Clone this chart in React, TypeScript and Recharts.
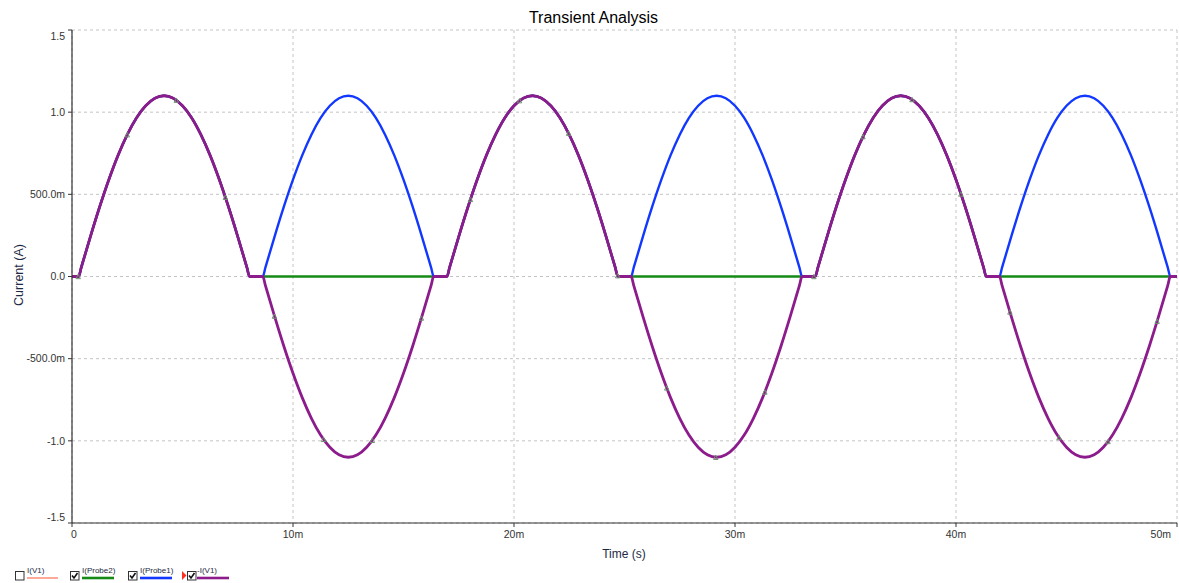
import React from "react";
import { ComposedChart, Line, XAxis, YAxis, CartesianGrid } from "recharts";

// Time in milliseconds
const TIME_MS = [
  0, 0.3, 0.417, 0.833, 1.25, 1.667, 2.083, 2.5, 2.917, 3.333, 3.75, 4.167, 4.583, 5, 5.417, 5.833, 6.25, 6.667, 7.083, 7.5, 7.917, 8.033,
  8.333, 8.633,
  8.75, 9.167, 9.583, 10, 10.417, 10.833, 11.25, 11.667, 12.083, 12.5, 12.917, 13.333, 13.75, 14.167, 14.583, 15, 15.417, 15.833, 16.25,
  16.367, 16.667, 16.967,
  17.083, 17.5, 17.917, 18.333, 18.75, 19.167, 19.583, 20, 20.417, 20.833, 21.25, 21.667, 22.083, 22.5, 22.917, 23.333, 23.75, 24.167, 24.583,
  24.7, 25, 25.3,
  25.417, 25.833, 26.25, 26.667, 27.083, 27.5, 27.917, 28.333, 28.75, 29.167, 29.583, 30, 30.417, 30.833, 31.25, 31.667, 32.083, 32.5, 32.917,
  33.033, 33.333, 33.633,
  33.75, 34.167, 34.583, 35, 35.417, 35.833, 36.25, 36.667, 37.083, 37.5, 37.917, 38.333, 38.75, 39.167, 39.583, 40, 40.417, 40.833, 41.25,
  41.367, 41.667, 41.967,
  42.083, 42.5, 42.917, 43.333, 43.75, 44.167, 44.583, 45, 45.417, 45.833, 46.25, 46.667, 47.083, 47.5, 47.917, 48.333, 48.75, 49.167, 49.583,
  49.7, 50,
];

// -I(V1) (purple)
const NEG_I_V1 = [
  0, 0, 0.054, 0.243, 0.423, 0.589, 0.737, 0.863, 0.965, 1.039, 1.085, 1.1, 1.085, 1.039, 0.965, 0.863, 0.737, 0.589, 0.423, 0.243, 0.054, 0,
  0, 0,
  -0.054, -0.243, -0.423, -0.589, -0.737, -0.863, -0.965, -1.039, -1.085, -1.1, -1.085, -1.039, -0.965, -0.863, -0.737, -0.589, -0.423, -0.243, -0.054,
  0, 0, 0,
  0.054, 0.243, 0.423, 0.589, 0.737, 0.863, 0.965, 1.039, 1.085, 1.1, 1.085, 1.039, 0.965, 0.863, 0.737, 0.589, 0.423, 0.243, 0.054,
  0, 0, 0,
  -0.054, -0.243, -0.423, -0.589, -0.737, -0.863, -0.965, -1.039, -1.085, -1.1, -1.085, -1.039, -0.965, -0.863, -0.737, -0.589, -0.423, -0.243, -0.054,
  0, 0, 0,
  0.054, 0.243, 0.423, 0.589, 0.737, 0.863, 0.965, 1.039, 1.085, 1.1, 1.085, 1.039, 0.965, 0.863, 0.737, 0.589, 0.423, 0.243, 0.054,
  0, 0, 0,
  -0.054, -0.243, -0.423, -0.589, -0.737, -0.863, -0.965, -1.039, -1.085, -1.1, -1.085, -1.039, -0.965, -0.863, -0.737, -0.589, -0.423, -0.243, -0.054,
  0, 0,
];

// I(Probe1) (blue)
const I_PROBE1 = [
  0, 0, 0.054, 0.243, 0.423, 0.589, 0.737, 0.863, 0.965, 1.039, 1.085, 1.1, 1.085, 1.039, 0.965, 0.863, 0.737, 0.589, 0.423, 0.243, 0.054, 0,
  0, 0,
  0.054, 0.243, 0.423, 0.589, 0.737, 0.863, 0.965, 1.039, 1.085, 1.1, 1.085, 1.039, 0.965, 0.863, 0.737, 0.589, 0.423, 0.243, 0.054,
  0, 0, 0,
  0.054, 0.243, 0.423, 0.589, 0.737, 0.863, 0.965, 1.039, 1.085, 1.1, 1.085, 1.039, 0.965, 0.863, 0.737, 0.589, 0.423, 0.243, 0.054,
  0, 0, 0,
  0.054, 0.243, 0.423, 0.589, 0.737, 0.863, 0.965, 1.039, 1.085, 1.1, 1.085, 1.039, 0.965, 0.863, 0.737, 0.589, 0.423, 0.243, 0.054,
  0, 0, 0,
  0.054, 0.243, 0.423, 0.589, 0.737, 0.863, 0.965, 1.039, 1.085, 1.1, 1.085, 1.039, 0.965, 0.863, 0.737, 0.589, 0.423, 0.243, 0.054,
  0, 0, 0,
  0.054, 0.243, 0.423, 0.589, 0.737, 0.863, 0.965, 1.039, 1.085, 1.1, 1.085, 1.039, 0.965, 0.863, 0.737, 0.589, 0.423, 0.243, 0.054,
  0, 0,
];

// I(Probe2) (green)
const I_PROBE2 = [
  0, 0, 0.054, 0.243, 0.423, 0.589, 0.737, 0.863, 0.965, 1.039, 1.085, 1.1, 1.085, 1.039, 0.965, 0.863, 0.737, 0.589, 0.423, 0.243, 0.054, 0,
  0, 0,
  0, 0, 0, 0, 0, 0, 0, 0, 0, 0, 0, 0, 0, 0, 0, 0, 0, 0, 0,
  0, 0, 0,
  0.054, 0.243, 0.423, 0.589, 0.737, 0.863, 0.965, 1.039, 1.085, 1.1, 1.085, 1.039, 0.965, 0.863, 0.737, 0.589, 0.423, 0.243, 0.054,
  0, 0, 0,
  0, 0, 0, 0, 0, 0, 0, 0, 0, 0, 0, 0, 0, 0, 0, 0, 0, 0, 0,
  0, 0, 0,
  0.054, 0.243, 0.423, 0.589, 0.737, 0.863, 0.965, 1.039, 1.085, 1.1, 1.085, 1.039, 0.965, 0.863, 0.737, 0.589, 0.423, 0.243, 0.054,
  0, 0, 0,
  0, 0, 0, 0, 0, 0, 0, 0, 0, 0, 0, 0, 0, 0, 0, 0, 0, 0, 0,
  0, 0,
];

// Small trace markers on -I(V1)
const MARKER_TIME_MS = [
  0.28, 2.5, 4.72, 6.94, 9.16, 11.38, 13.59, 15.81, 18.03, 20.25, 22.47, 24.69,
  26.91, 29.13, 31.35, 33.57, 35.79, 38.01, 40.22, 42.44, 44.66, 46.88, 49.1,
];
const MARKER_VALUES = [
  0, 0.863, 1.073, 0.482, -0.241, -0.991, -0.997, -0.253, 0.469, 1.07, 0.872, 0.005,
  -0.678, -1.1, -0.703, 0, 0.851, 1.077, 0.502, -0.216, -0.98, -1.004, -0.272,
];

const X_TICKS = [0, 10, 20, 30, 40, 50];
const X_TICK_LABELS = ["0", "10m", "20m", "30m", "40m", "50m"];
const Y_TICKS = [-1.5, -1, -0.5, 0, 0.5, 1, 1.5];
const Y_TICK_LABELS = ["-1.5", "-1.0", "-500.0m", "0.0", "500.0m", "1.0", "1.5"];

const FONT = "'Liberation Sans', Arial, sans-serif";
const PURPLE = "#8c1c8c";
const BLUE = "#1238ff";
const GREEN = "#168a16";
const LABEL_COLOR = "#1e2a44";
const TICK_COLOR = "#333333";

const rows = TIME_MS.map((t, i) => ({
  t,
  v1: NEG_I_V1[i],
  p1: I_PROBE1[i],
  p2: I_PROBE2[i],
}));
const markers = MARKER_TIME_MS.map((t, i) => ({ t, m: MARKER_VALUES[i] }));

const XTick = (props: any) => {
  const { x, y, payload } = props;
  const i = X_TICKS.indexOf(payload.value);
  const label = X_TICK_LABELS[i] ?? String(payload.value);
  let anchor: "start" | "middle" | "end" = "middle";
  let dx = 0;
  if (i === 0) {
    anchor = "start";
    dx = -1;
  } else if (i === X_TICKS.length - 1) {
    anchor = "end";
    dx = 0;
  }
  return (
    <text x={x + dx} y={y} dy="0.71em" textAnchor={anchor} fontSize={10.5} fontFamily={FONT} fill={TICK_COLOR}>
      {label}
    </text>
  );
};

const YTick = (props: any) => {
  const { x, y, payload } = props;
  const i = Y_TICKS.indexOf(payload.value);
  const label = Y_TICK_LABELS[i] ?? String(payload.value);
  let dy = 0;
  if (i === Y_TICKS.length - 1) dy = 6;
  if (i === 0) dy = -6;
  return (
    <text x={x} y={y + dy} dy="0.355em" textAnchor="end" fontSize={10.5} fontFamily={FONT} fill={TICK_COLOR}>
      {label}
    </text>
  );
};

const MarkerDot = (props: any) => {
  const { cx, cy, index } = props;
  if (cx == null || cy == null) return <g key={`m-${index}`} />;
  const s = 2.2;
  return (
    <g key={`m-${index}`}>
      <path
        d={`M${cx - s},${cy + s} L${cx},${cy - s} L${cx + s},${cy + s} Z`}
        fill="none"
        stroke="#6f8f6f"
        strokeWidth={1}
      />
    </g>
  );
};

const CheckBox = ({ x, checked }: { x: number; checked: boolean }) => (
  <g>
    <rect x={x + 0.5} y={571.5} width={8.5} height={8.5} fill="#fff" stroke="#333" strokeWidth={1} />
    {checked && (
      <path
        d={`M${x + 2},${575.5} L${x + 4},${578} L${x + 7.5},${573}`}
        fill="none"
        stroke="#111"
        strokeWidth={1.6}
      />
    )}
  </g>
);

const LEGEND_ITEMS = [
  { box: 15, label: "I(V1)", lx: 27, x2: 58, color: "#ff5533", w: 1, checked: false },
  { box: 70, label: "I(Probe2)", lx: 82, x2: 114, color: GREEN, w: 2.6, checked: true },
  { box: 128, label: "I(Probe1)", lx: 140, x2: 172, color: BLUE, w: 2.6, checked: true },
  { box: 187, label: "-I(V1)", lx: 197, x2: 229, color: PURPLE, w: 2.6, checked: true },
];

export default function App() {
  return (
    <div style={{ position: "absolute", left: 0, top: 0, width: 1179, height: 583, background: "#fff" }}>
      <ComposedChart
        width={1179}
        height={583}
        data={rows}
        margin={{ top: 30, right: 2, left: 12, bottom: 30 }}
      >
        <CartesianGrid stroke="#c4c4c4" strokeDasharray="3 3" />
        <XAxis
          dataKey="t"
          type="number"
          domain={[0, 50]}
          ticks={X_TICKS}
          allowDataOverflow
          height={30}
          tick={<XTick />}
          tickSize={4}
          tickMargin={4}
          axisLine={{ stroke: TICK_COLOR, strokeWidth: 1.2 }}
          tickLine={{ stroke: TICK_COLOR }}
        />
        <YAxis
          type="number"
          domain={[-1.5, 1.5]}
          ticks={Y_TICKS}
          allowDataOverflow
          width={60}
          tick={<YTick />}
          tickSize={4}
          tickMargin={3}
          axisLine={{ stroke: TICK_COLOR, strokeWidth: 1.2 }}
          tickLine={{ stroke: TICK_COLOR }}
        />
        <Line
          type="monotone"
          dataKey="p2"
          stroke={GREEN}
          strokeWidth={2.4}
          dot={false}
          isAnimationActive={false}
        />
        <Line
          type="monotone"
          dataKey="p1"
          stroke={BLUE}
          strokeWidth={2.4}
          dot={false}
          isAnimationActive={false}
        />
        <Line
          type="monotone"
          dataKey="v1"
          stroke={PURPLE}
          strokeWidth={2.8}
          dot={false}
          isAnimationActive={false}
        />
        <Line
          data={markers}
          type="linear"
          dataKey="m"
          stroke="none"
          dot={<MarkerDot />}
          activeDot={false}
          isAnimationActive={false}
        />
      </ComposedChart>
      <svg
        width={1179}
        height={583}
        style={{ position: "absolute", left: 0, top: 0, pointerEvents: "none" }}
      >
        <text x={593.5} y={23} textAnchor="middle" fontSize={16} fontFamily={FONT} fill="#000">
          Transient Analysis
        </text>
        <text
          transform="translate(22.5,275) rotate(-90)"
          textAnchor="middle"
          fontSize={12.5}
          fontFamily={FONT}
          fill={LABEL_COLOR}
        >
          Current (A)
        </text>
        <text x={624} y={557.5} textAnchor="middle" fontSize={12} fontFamily={FONT} fill={LABEL_COLOR}>
          Time (s)
        </text>
        {LEGEND_ITEMS.map((it) => (
          <g key={it.label}>
            <CheckBox x={it.box} checked={it.checked} />
            <text x={it.lx} y={572.5} fontSize={8} fontFamily={FONT} fill={LABEL_COLOR}>
              {it.label}
            </text>
            <line x1={it.lx} y1={578} x2={it.x2} y2={578} stroke={it.color} strokeWidth={it.w} />
          </g>
        ))}
        <polygon points="182,571 186.5,575.5 182,580" fill="#ff3020" />
      </svg>
    </div>
  );
}
